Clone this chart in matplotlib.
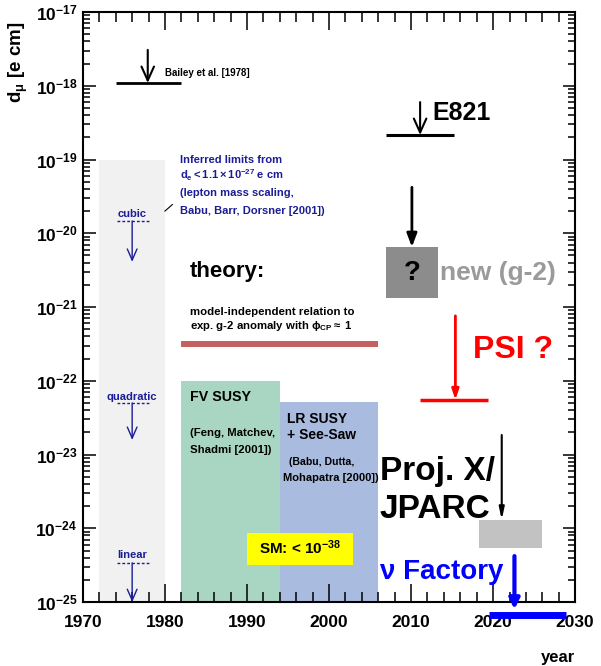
import matplotlib
matplotlib.use("Agg")
import matplotlib.pyplot as plt
from matplotlib.ticker import MultipleLocator, LogLocator, NullFormatter

plt.rcParams["font.family"] = ["Liberation Sans", "DejaVu Sans"]
plt.rcParams["font.weight"] = "bold"
plt.rcParams["axes.labelweight"] = "bold"
plt.rcParams["mathtext.fontset"] = "custom"
plt.rcParams["mathtext.rm"] = "Liberation Sans:bold"
plt.rcParams["mathtext.bf"] = "Liberation Sans:bold"
plt.rcParams["mathtext.it"] = "Liberation Sans:bold"
plt.rcParams["mathtext.sf"] = "Liberation Sans:bold"
plt.rcParams["mathtext.default"] = "regular"

# axis ranges / ticks
year_ticks = [1970, 1980, 1990, 2000, 2010, 2020, 2030]
dmu_ticks = [1e-25, 1e-24, 1e-23, 1e-22, 1e-21, 1e-20, 1e-19, 1e-18, 1e-17]
dmu_labels = ["$10^{-25}$", "$10^{-24}$", "$10^{-23}$", "$10^{-22}$", "$10^{-21}$",
              "$10^{-20}$", "$10^{-19}$", "$10^{-18}$", "$10^{-17}$"]

# experimental limits: horizontal bar + arrow
bailey_span = [1974.0, 1982.0]
bailey_limit = 1.09e-18
bailey_arrow = [1977.9, 3.06e-18]

e821_span = [2007.0, 2015.2]
e821_limit = 2.15e-19
e821_arrow = [2011.1, 6.0e-19]

psi_span = [2011.1, 2019.4]
psi_limit = 5.5e-23
psi_arrow = [2015.4, 7.6e-22]

nufact_span = [2019.5, 2028.9]
nufact_limit = 6.7e-26
nufact_arrow = [2022.6, 4.2e-25, 8.0e-26]

# projected regions (x0, x1, bottom, top)
newg2_box = [2007.0, 2013.3, 1.32e-21, 6.5e-21]
newg2_arrow = [2010.1, 4.2e-20]
projx_box = [2018.3, 2026.0, 5.4e-25, 1.3e-24]
projx_arrow = [2021.05, 1.84e-23]

# theory regions
scaling_band = [1972.0, 1980.0, 1e-25, 1e-19]
g2_relation = [1982.0, 2006.0, 2.85e-22, 3.45e-22]
fv_susy = [1982.0, 1994.0, 1e-25, 1e-22]
lr_susy = [1994.0, 2006.0, 1e-25, 5.1e-23]
sm_box = [1990.0, 2002.9, 3.2e-25, 8.6e-25]

scaling_names = ["cubic", "quadratic", "linear"]
scaling_start = [1.47e-20, 5.0e-23, 3.4e-25]
scaling_end = [4.1e-21, 1.58e-23, 1.0e-25]
scaling_label_y = [1.8e-20, 6.0e-23, 4.3e-25]

navy = "#1c1c96"

fig = plt.figure(figsize=(6.01, 6.66), dpi=100)
ax = fig.add_axes([0.138, 0.096, 0.819, 0.886])
ax.set_yscale("log")
ax.set_xlim(1970, 2030)
ax.set_ylim(1e-25, 1e-17)


def box(b, color, z=1):
    ax.fill_between([b[0], b[1]], b[2], b[3], color=color, lw=0, zorder=z)


box(scaling_band, "#f1f1f1", 0.5)
box(g2_relation, "#c46262")
box(fv_susy, "#a9d6c2")
box(lr_susy, "#aabbe0")
box(sm_box, "#ffff00", 2)
box(newg2_box, "#8c8c8c")
box(projx_box, "#c2c2c2")

# scaling arrows
for name, y0, y1, ly in zip(scaling_names, scaling_start, scaling_end, scaling_label_y):
    ax.plot([1974.2, 1978.0], [y0, y0], ls=(0, (2, 1.5)), color=navy, lw=1)
    ax.annotate("", xy=(1976, y1), xytext=(1976, y0),
                arrowprops=dict(arrowstyle="->,head_length=0.8,head_width=0.35",
                                color=navy, lw=1, shrinkA=0, shrinkB=0))
    ax.text(1976, ly, name, color=navy, fontsize=8, ha="center", va="center")

# limit bars
for span, lim, col, lw in [(bailey_span, bailey_limit, "black", 2),
                           (e821_span, e821_limit, "black", 2.2),
                           (psi_span, psi_limit, "red", 2.5)]:
    ax.plot(span, [lim, lim], color=col, lw=lw, solid_capstyle="butt")
ax.plot(nufact_span, [nufact_limit, nufact_limit], color="#0000ff", lw=5,
        solid_capstyle="butt", clip_on=False)

open_head = "->,head_length=1.0,head_width=0.45"
ax.annotate("", xy=(bailey_arrow[0], bailey_limit), xytext=tuple(bailey_arrow),
            arrowprops=dict(arrowstyle=open_head, color="black", lw=1.5, shrinkA=0, shrinkB=0))
ax.annotate("", xy=(e821_arrow[0], e821_limit), xytext=tuple(e821_arrow),
            arrowprops=dict(arrowstyle=open_head, color="black", lw=1.5, shrinkA=0, shrinkB=0))
ax.annotate("", xy=(newg2_arrow[0], newg2_box[3]), xytext=tuple(newg2_arrow),
            arrowprops=dict(arrowstyle="-|>,head_length=0.8,head_width=0.3",
                            color="black", lw=2, shrinkA=0, shrinkB=0))
ax.annotate("", xy=(psi_arrow[0], psi_limit), xytext=tuple(psi_arrow),
            arrowprops=dict(arrowstyle="-|>,head_length=0.6,head_width=0.2",
                            color="red", lw=2, shrinkA=0, shrinkB=0))
ax.annotate("", xy=(projx_arrow[0], projx_box[3]), xytext=tuple(projx_arrow),
            arrowprops=dict(arrowstyle="-|>,head_length=0.7,head_width=0.15",
                            color="black", lw=1.5, shrinkA=0, shrinkB=0))
ax.annotate("", xy=(nufact_arrow[0], nufact_arrow[2]), xytext=(nufact_arrow[0], nufact_arrow[1]),
            arrowprops=dict(arrowstyle="-|>,head_length=0.6,head_width=0.3",
                            color="#0000ff", lw=3, shrinkA=0, shrinkB=0),
            annotation_clip=False)

# texts
ax.text(1980.0, 1.49e-18, "Bailey et al. [1978]", fontsize=7, va="center")
ax.text(2012.6, 4.3e-19, "E821", fontsize=18, va="center")
ax.text(2010.15, 2.9e-21, "?", fontsize=20, ha="center", va="center")
ax.text(2013.5, 2.9e-21, "new (g-2)", fontsize=19, va="center", color="#9a9a9a")
ax.text(2017.5, 2.6e-22, "PSI ?", fontsize=23, va="center", color="red")
ax.text(2006.2, 5.8e-24, "Proj. X/", fontsize=24, va="center")
ax.text(2006.2, 1.78e-24, "JPARC", fontsize=24, va="center")
ax.text(2006.2, 2.55e-25, "ν Factory", fontsize=20, va="center", color="#0000ff")

ax.text(1981.8, 9.8e-20, "Inferred limits from", fontsize=8, va="center", color=navy)
ax.text(1981.8, 6.2e-20, r"$d_e < 1.1 \times 10^{-27}$ e cm", fontsize=8, va="center", color=navy)
ax.text(1981.8, 3.5e-20, "(lepton mass scaling,", fontsize=8, va="center", color=navy)
ax.text(1981.8, 2.0e-20, "Babu, Barr, Dorsner [2001])", fontsize=8, va="center", color=navy)
ax.plot([1980.0, 1980.9], [2.0e-20, 2.45e-20], color="black", lw=0.8)

ax.text(1983.0, 3.0e-21, "theory:", fontsize=16, va="center")
ax.text(1983.0, 8.6e-22, "model-independent relation to", fontsize=8.2, va="center")
ax.text(1983.0, 5.6e-22, r"exp. g-2 anomaly with $\phi_{CP} \approx$ 1", fontsize=8.2, va="center")

ax.text(1983.0, 6.0e-23, "FV SUSY", fontsize=10.3, va="center")
ax.text(1983.0, 1.96e-23, "(Feng, Matchev,", fontsize=8.2, va="center")
ax.text(1983.0, 1.15e-23, "Shadmi [2001])", fontsize=8.2, va="center")
ax.text(1994.9, 3.0e-23, "LR SUSY", fontsize=10, va="center")
ax.text(1994.9, 1.84e-23, "+ See-Saw", fontsize=10, va="center")
ax.text(1995.1, 7.9e-24, "(Babu, Dutta,", fontsize=7.6, va="center")
ax.text(1994.4, 4.8e-24, "Mohapatra [2000])", fontsize=8, va="center")
ax.text(1996.45, 5.4e-25, "SM: < $10^{-38}$", fontsize=11, ha="center", va="center", zorder=3)

# axes styling (ROOT-like)
ax.set_xticks(year_ticks)
ax.set_xticklabels([str(y) for y in year_ticks])
ax.xaxis.set_minor_locator(MultipleLocator(2))
ax.set_yticks(dmu_ticks)
ax.set_yticklabels(dmu_labels)
ax.yaxis.set_minor_locator(LogLocator(base=10, subs=range(2, 10), numticks=20))
ax.yaxis.set_minor_formatter(NullFormatter())
ax.tick_params(which="both", direction="in", top=True, right=True, width=1.1, labelsize=12.5)
ax.tick_params(axis="x", which="major", length=13, pad=9)
ax.tick_params(axis="x", which="minor", length=7)
ax.tick_params(axis="y", which="major", length=9, pad=4)
ax.tick_params(axis="y", which="minor", length=5)
for s in ax.spines.values():
    s.set_linewidth(1.5)

ax.set_xlabel("year", fontsize=12, loc="right", labelpad=15)
ax.set_ylabel(r"$d_{\mu}$ [e cm]", fontsize=13.5)
ax.yaxis.set_label_coords(-0.132, 0.983, transform=ax.transAxes)
ax.yaxis.label.set_verticalalignment("center")
ax.yaxis.label.set_horizontalalignment("right")

fig.savefig("out.png", dpi=100)
